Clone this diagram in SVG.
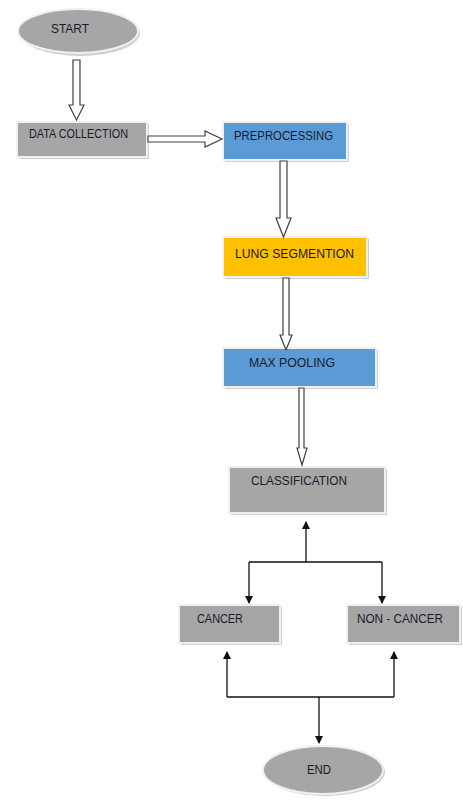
<svg xmlns="http://www.w3.org/2000/svg" width="463" height="803" viewBox="0 0 463 803">
<style>
.t{font-family:"Liberation Sans",Arial,sans-serif;font-size:12.5px;fill:#1a1a2a}
.sh{fill:#d0d0d0}
.box{stroke:#f0f0f0;stroke-width:2}
.gray{fill:#a6a6a6}
.blue{fill:#5b9bd5}
.gold{fill:#ffc000}
.hollow{fill:#fff;stroke:#404040;stroke-width:1.2;stroke-linejoin:miter}
.ln{fill:none;stroke:#111;stroke-width:1.3}
</style>
<defs>
<marker id="ah" markerWidth="8" markerHeight="8" refX="7" refY="4" orient="auto" markerUnits="userSpaceOnUse">
<path d="M0,0 L8,4 L0,8 Z" fill="#111"/>
</marker>
</defs>
<rect width="463" height="803" fill="#fff"/>

<g id="start">
<ellipse cx="80" cy="33" rx="60" ry="23" class="sh"/>
<ellipse cx="78" cy="31" rx="60" ry="22" class="gray box"/>
<text x="51" y="33" class="t" textLength="38" lengthAdjust="spacingAndGlyphs">START</text>
</g>

<g id="data-collection">
<rect x="19" y="124" width="130" height="35" class="sh"/>
<rect x="17" y="122" width="130" height="35" class="gray box"/>
<text x="29" y="138" class="t" textLength="99" lengthAdjust="spacingAndGlyphs">DATA COLLECTION</text>
</g>

<g id="preprocessing">
<rect x="225" y="124" width="124" height="38" class="sh"/>
<rect x="223" y="122" width="124" height="38" class="blue box"/>
<text x="234" y="140" class="t" textLength="99" lengthAdjust="spacingAndGlyphs">PREPROCESSING</text>
</g>

<g id="lung-segmentation">
<rect x="225" y="239" width="144" height="40" class="sh"/>
<rect x="223" y="237" width="144" height="40" class="gold box"/>
<text x="235" y="258" class="t" textLength="119" lengthAdjust="spacingAndGlyphs">LUNG SEGMENTION</text>
</g>

<g id="max-pooling">
<rect x="225" y="350" width="153" height="39" class="sh"/>
<rect x="223" y="348" width="153" height="39" class="blue box"/>
<text x="249" y="367" class="t" textLength="86" lengthAdjust="spacingAndGlyphs">MAX POOLING</text>
</g>

<g id="classification">
<rect x="231" y="469" width="156" height="46" class="sh"/>
<rect x="229" y="467" width="156" height="46" class="gray box"/>
<text x="251" y="485" class="t" textLength="96" lengthAdjust="spacingAndGlyphs">CLASSIFICATION</text>
</g>

<g id="cancer">
<rect x="181" y="607" width="101" height="38" class="sh"/>
<rect x="179" y="605" width="101" height="38" class="gray box"/>
<text x="197" y="623" class="t" textLength="46" lengthAdjust="spacingAndGlyphs">CANCER</text>
</g>

<g id="non-cancer">
<rect x="349" y="607" width="113" height="38" class="sh"/>
<rect x="347" y="605" width="113" height="38" class="gray box"/>
<text x="357" y="623" class="t" textLength="86" lengthAdjust="spacingAndGlyphs">NON - CANCER</text>
</g>

<g id="end">
<ellipse cx="325" cy="772" rx="60" ry="24" class="sh"/>
<ellipse cx="323" cy="770" rx="60" ry="24" class="gray box"/>
<text x="307" y="774" class="t" textLength="24" lengthAdjust="spacingAndGlyphs">END</text>
</g>

<g id="connectors">
<polygon class="hollow" points="73,60 80,60 80,105 84,105 76.5,120 69,105 73,105"/>
<polygon class="hollow" points="148,136 205,136 205,131 222,139 205,147 205,142 148,142"/>
<polygon class="hollow" points="280,161 287,161 287,218 291,218 283.5,237 276,218 280,218"/>
<polygon class="hollow" points="283,278 289,278 289,335 292,335 286,350 280,335 283,335"/>
<polygon class="hollow" points="299,388 304,388 304,448 307,448 302,465 297,448 299,448"/>
<path class="ln" d="M306,562 V522" marker-end="url(#ah)"/>
<path class="ln" d="M249,562 H382"/>
<path class="ln" d="M249,562 V603" marker-end="url(#ah)"/>
<path class="ln" d="M382,562 V603" marker-end="url(#ah)"/>
<path class="ln" d="M227,697 V652" marker-end="url(#ah)"/>
<path class="ln" d="M394,697 V652" marker-end="url(#ah)"/>
<path class="ln" d="M227,697 H394"/>
<path class="ln" d="M319,697 V743" marker-end="url(#ah)"/>
</g>
</svg>
